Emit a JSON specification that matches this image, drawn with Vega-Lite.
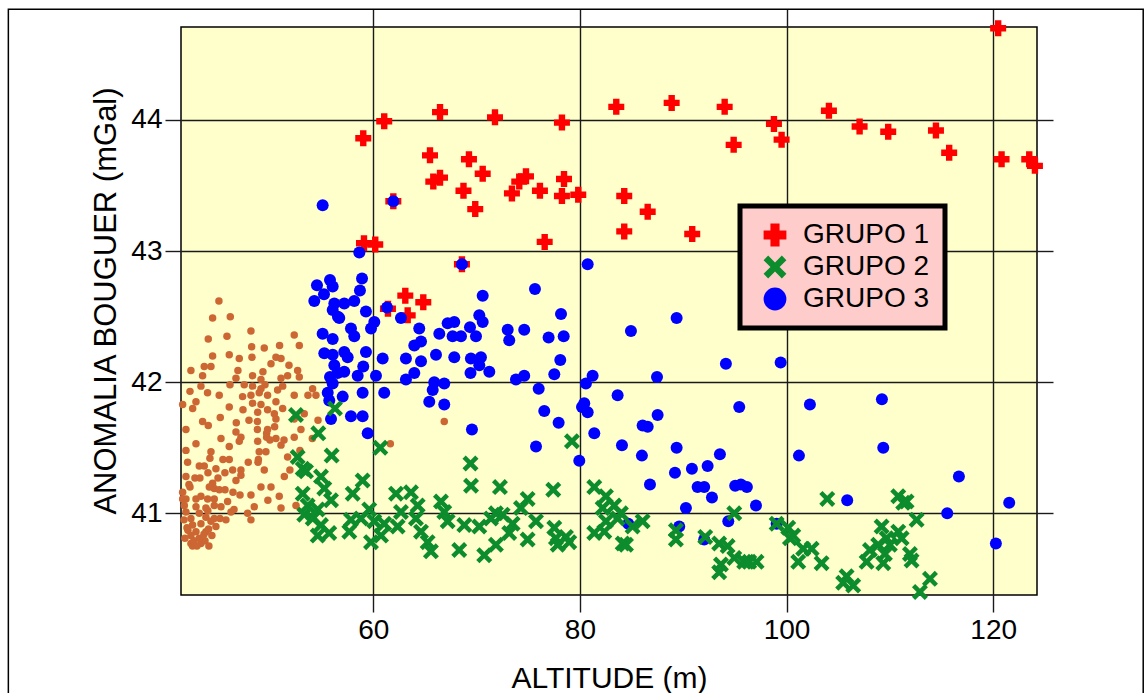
{
"$schema": "https://vega.github.io/schema/vega-lite/v6.json",
"width": 856,
"height": 568,
"autosize": {"type": "none"},
"padding": {"left": 181, "top": 27, "right": 107, "bottom": 98},
"background": "#FFFFFF",
"config": {
  "font": "Liberation Sans",
  "view": {"fill": "#FFFFCC", "stroke": "#000000", "strokeWidth": 1.5},
  "axis": {"domain": false, "tickColor": "#1A1A1A", "tickWidth": 1.4, "gridColor": "#1A1A1A", "gridWidth": 1.4, "gridOpacity": 1, "labelColor": "#000000", "labelFont": "Liberation Sans", "labelFontSize": 28, "titleFont": "Liberation Sans", "titleFontSize": 30, "titleFontWeight": "normal", "titleColor": "#000000", "labelOverlap": false, "labelFlush": false},
  "legend": {"padding": 15, "fillColor": "#FFCCCC", "strokeColor": "#000000", "strokeWidth": 5, "labelFont": "Liberation Sans", "labelFontSize": 28, "labelColor": "#000000", "labelLimit": 0, "labelOffset": 14, "symbolOffset": 6, "symbolSize": 520, "symbolStrokeWidth": 0, "rowPadding": 4, "cornerRadius": 0}
},
"resolve": {"axis": {"x": "independent", "y": "independent"}},
"datasets": {
"marco": [{"x1": 24.68, "x2": 134.52, "y1": 44.844, "y2": 39.5}],
"otros": [
{"alt":45.06,"anom":42.62},{"alt":44.45,"anom":42.49},{"alt":46.16,"anom":42.50},{"alt":44.03,"anom":42.33},{"alt":45.84,"anom":42.35},{"alt":48.16,"anom":42.39},{"alt":52.35,"anom":42.36},{"alt":48.23,"anom":42.27},{"alt":49.45,"anom":42.26},{"alt":44.45,"anom":42.20},
{"alt":46.06,"anom":42.21},{"alt":47.03,"anom":42.18},{"alt":48.26,"anom":42.19},{"alt":50.10,"anom":42.14},{"alt":50.58,"anom":42.19},{"alt":51.07,"anom":42.18},{"alt":42.35,"anom":42.09},{"alt":43.64,"anom":42.12},{"alt":44.29,"anom":42.12},{"alt":43.48,"anom":42.05},
{"alt":46.71,"anom":42.03},{"alt":48.32,"anom":42.05},{"alt":47.51,"anom":41.98},{"alt":48.32,"anom":41.97},{"alt":49.13,"anom":41.95},{"alt":51.07,"anom":42.03},{"alt":51.71,"anom":42.05},{"alt":52.68,"anom":42.09},{"alt":52.84,"anom":42.04},{"alt":49.13,"anom":42.02},
{"alt":43.32,"anom":41.97},{"alt":43.96,"anom":41.92},{"alt":45.09,"anom":41.90},{"alt":47.35,"anom":41.89},{"alt":48.16,"anom":41.90},{"alt":48.96,"anom":41.92},{"alt":49.77,"anom":41.90},{"alt":50.74,"anom":41.94},{"alt":51.23,"anom":41.97},{"alt":52.35,"anom":41.90},
{"alt":54.13,"anom":41.95},{"alt":54.45,"anom":41.90},{"alt":41.55,"anom":41.83},{"alt":42.84,"anom":41.85},{"alt":42.52,"anom":41.80},{"alt":46.06,"anom":41.81},{"alt":48.32,"anom":41.84},{"alt":48.81,"anom":41.77},{"alt":49.13,"anom":41.83},{"alt":50.58,"anom":41.85},
{"alt":50.42,"anom":41.76},{"alt":51.23,"anom":41.80},{"alt":53.32,"anom":41.76},{"alt":52.35,"anom":41.72},{"alt":43.48,"anom":41.70},{"alt":47.97,"anom":41.71},{"alt":48.78,"anom":41.70},{"alt":50.58,"anom":41.72},{"alt":49.77,"anom":41.64},{"alt":46.71,"anom":41.62},
{"alt":47.19,"anom":41.58},{"alt":48.78,"anom":41.64},{"alt":51.36,"anom":41.56},{"alt":50.58,"anom":41.57},{"alt":51.07,"anom":41.52},{"alt":52.35,"anom":41.58},{"alt":53.00,"anom":41.64},{"alt":45.26,"anom":41.57},{"alt":47.03,"anom":41.55},{"alt":48.81,"anom":41.55},
{"alt":41.87,"anom":41.48},{"alt":44.29,"anom":41.47},{"alt":48.96,"anom":41.47},{"alt":49.61,"anom":41.47},{"alt":51.71,"anom":41.43},{"alt":42.03,"anom":41.39},{"alt":43.16,"anom":41.36},{"alt":43.64,"anom":41.36},{"alt":44.77,"anom":41.34},{"alt":46.06,"anom":41.41},
{"alt":46.39,"anom":41.33},{"alt":47.19,"anom":41.33},{"alt":49.45,"anom":41.33},{"alt":51.39,"anom":41.28},{"alt":41.87,"anom":41.28},{"alt":44.45,"anom":41.23},{"alt":44.61,"anom":41.19},{"alt":44.13,"anom":41.20},{"alt":45.10,"anom":41.18},{"alt":46.71,"anom":41.25},
{"alt":47.19,"anom":41.29},{"alt":49.13,"anom":41.20},{"alt":50.10,"anom":41.20},{"alt":50.90,"anom":41.13},{"alt":48.16,"anom":41.14},{"alt":43.32,"anom":41.13},{"alt":43.97,"anom":41.11},{"alt":44.61,"anom":41.11},{"alt":45.90,"anom":41.09},{"alt":41.87,"anom":41.11},
{"alt":41.71,"anom":41.06},{"alt":42.84,"anom":41.05},{"alt":43.80,"anom":41.04},{"alt":44.61,"anom":41.06},{"alt":45.26,"anom":41.05},{"alt":46.23,"anom":41.01},{"alt":48.48,"anom":41.05},{"alt":51.07,"anom":41.04},{"alt":52.52,"anom":41.06},{"alt":42.35,"anom":40.96},
{"alt":43.16,"anom":41.00},{"alt":43.80,"anom":40.97},{"alt":44.61,"anom":40.96},{"alt":47.84,"anom":41.00},{"alt":48.16,"anom":40.95},{"alt":42.51,"anom":40.91},{"alt":43.32,"anom":40.92},{"alt":44.29,"anom":40.94},{"alt":42.84,"anom":40.86},{"alt":43.80,"anom":40.86},
{"alt":42.35,"anom":40.83},{"alt":43.16,"anom":40.81},{"alt":42.35,"anom":40.77},{"alt":43.32,"anom":40.77},{"alt":42.51,"anom":40.75},{"alt":41.87,"anom":41.01},{"alt":41.55,"anom":41.11},{"alt":41.55,"anom":41.16},{"alt":61.65,"anom":41.53},{"alt":66.87,"anom":41.70},
{"alt":54.10,"anom":41.57},{"alt":49.68,"anom":41.61},{"alt":48.88,"anom":41.41},{"alt":47.90,"anom":41.39},{"alt":46.52,"anom":41.03},{"alt":43.61,"anom":40.84},{"alt":49.52,"anom":41.98},{"alt":50.45,"anom":41.66},{"alt":49.68,"anom":41.58},{"alt":42.26,"anom":41.20},
{"alt":42.74,"anom":41.27},{"alt":44.00,"anom":41.31},{"alt":44.97,"anom":41.27},{"alt":45.65,"anom":41.18},{"alt":44.06,"anom":40.88},{"alt":41.97,"anom":40.89},
{"alt":41.68,"anom":40.95},{"alt":42.06,"anom":40.87},{"alt":41.77,"anom":40.81},{"alt":42.64,"anom":40.79},{"alt":42.93,"anom":40.75},{"alt":43.71,"anom":40.79},{"alt":44.09,"anom":40.75},{"alt":44.38,"anom":40.83},{"alt":44.77,"anom":40.90},{"alt":45.16,"anom":40.96},
{"alt":43.99,"anom":41.02},{"alt":42.84,"anom":41.11},{"alt":42.16,"anom":41.22},{"alt":43.22,"anom":41.27},{"alt":45.64,"anom":41.31},{"alt":45.45,"anom":41.41},{"alt":44.19,"anom":41.42},{"alt":42.84,"anom":41.53},{"alt":46.06,"anom":41.51},{"alt":46.74,"anom":41.69},
{"alt":45.19,"anom":41.73},{"alt":44.03,"anom":41.67},{"alt":41.87,"anom":41.64},{"alt":42.26,"anom":41.93},{"alt":46.13,"anom":41.98},{"alt":46.90,"anom":42.09},{"alt":49.32,"anom":42.08},{"alt":51.84,"anom":42.13},{"alt":53.68,"anom":41.90},{"alt":54.65,"anom":41.71},
{"alt":52.90,"anom":41.48},{"alt":51.93,"anom":41.33},{"alt":49.80,"anom":41.10},{"alt":47.10,"anom":41.14},{"alt":45.74,"anom":40.95},{"alt":46.42,"anom":41.16},{"alt":48.84,"anom":41.39},{"alt":50.00,"anom":41.56},{"alt":49.77,"anom":41.79},{"alt":47.39,"anom":41.79},
{"alt":52.84,"anom":42.28},{"alt":50.93,"anom":42.28}
],
"grupo1": [
{"alt":59.03,"anom":43.86,"grupo":"GRUPO 1"},{"alt":61.06,"anom":43.99,"grupo":"GRUPO 1"},{"alt":66.46,"anom":44.06,"grupo":"GRUPO 1"},{"alt":65.49,"anom":43.73,"grupo":"GRUPO 1"},{"alt":65.81,"anom":43.53,"grupo":"GRUPO 1"},{"alt":66.46,"anom":43.56,"grupo":"GRUPO 1"},{"alt":69.26,"anom":43.70,"grupo":"GRUPO 1"},{"alt":68.73,"anom":43.46,"grupo":"GRUPO 1"},
{"alt":61.94,"anom":43.38,"grupo":"GRUPO 1"},{"alt":59.10,"anom":43.06,"grupo":"GRUPO 1"},{"alt":60.19,"anom":43.05,"grupo":"GRUPO 1"},{"alt":68.58,"anom":42.90,"grupo":"GRUPO 1"},{"alt":63.10,"anom":42.66,"grupo":"GRUPO 1"},{"alt":64.84,"anom":42.61,"grupo":"GRUPO 1"},{"alt":61.42,"anom":42.56,"grupo":"GRUPO 1"},{"alt":63.33,"anom":42.51,"grupo":"GRUPO 1"},
{"alt":71.78,"anom":44.02,"grupo":"GRUPO 1"},{"alt":78.26,"anom":43.98,"grupo":"GRUPO 1"},{"alt":83.52,"anom":44.10,"grupo":"GRUPO 1"},{"alt":88.88,"anom":44.13,"grupo":"GRUPO 1"},{"alt":94.01,"anom":44.10,"grupo":"GRUPO 1"},{"alt":94.88,"anom":43.81,"grupo":"GRUPO 1"},{"alt":70.59,"anom":43.59,"grupo":"GRUPO 1"},{"alt":69.87,"anom":43.32,"grupo":"GRUPO 1"},
{"alt":74.78,"anom":43.57,"grupo":"GRUPO 1"},{"alt":74.13,"anom":43.53,"grupo":"GRUPO 1"},{"alt":73.42,"anom":43.44,"grupo":"GRUPO 1"},{"alt":76.13,"anom":43.46,"grupo":"GRUPO 1"},{"alt":78.46,"anom":43.55,"grupo":"GRUPO 1"},{"alt":78.26,"anom":43.42,"grupo":"GRUPO 1"},{"alt":79.84,"anom":43.43,"grupo":"GRUPO 1"},{"alt":84.29,"anom":43.42,"grupo":"GRUPO 1"},
{"alt":86.56,"anom":43.30,"grupo":"GRUPO 1"},{"alt":84.29,"anom":43.15,"grupo":"GRUPO 1"},{"alt":90.87,"anom":43.13,"grupo":"GRUPO 1"},{"alt":76.59,"anom":43.07,"grupo":"GRUPO 1"},{"alt":120.48,"anom":44.70,"grupo":"GRUPO 1"},{"alt":98.78,"anom":43.97,"grupo":"GRUPO 1"},{"alt":99.52,"anom":43.85,"grupo":"GRUPO 1"},{"alt":104.10,"anom":44.07,"grupo":"GRUPO 1"},
{"alt":107.07,"anom":43.95,"grupo":"GRUPO 1"},{"alt":109.84,"anom":43.91,"grupo":"GRUPO 1"},{"alt":114.46,"anom":43.92,"grupo":"GRUPO 1"},{"alt":115.74,"anom":43.75,"grupo":"GRUPO 1"},{"alt":120.81,"anom":43.70,"grupo":"GRUPO 1"},{"alt":123.49,"anom":43.70,"grupo":"GRUPO 1"},{"alt":124.04,"anom":43.65,"grupo":"GRUPO 1"}
],
"grupo3": [
{"alt":55.10,"anom":43.35,"grupo":"GRUPO 3"},{"alt":61.94,"anom":43.38,"grupo":"GRUPO 3"},{"alt":58.65,"anom":42.99,"grupo":"GRUPO 3"},{"alt":68.58,"anom":42.90,"grupo":"GRUPO 3"},{"alt":80.75,"anom":42.90,"grupo":"GRUPO 3"},{"alt":75.65,"anom":42.71,"grupo":"GRUPO 3"},{"alt":70.59,"anom":42.66,"grupo":"GRUPO 3"},{"alt":54.55,"anom":42.74,"grupo":"GRUPO 3"},
{"alt":55.81,"anom":42.78,"grupo":"GRUPO 3"},{"alt":56.07,"anom":42.73,"grupo":"GRUPO 3"},{"alt":58.91,"anom":42.79,"grupo":"GRUPO 3"},{"alt":58.71,"anom":42.70,"grupo":"GRUPO 3"},{"alt":54.29,"anom":42.62,"grupo":"GRUPO 3"},{"alt":55.23,"anom":42.67,"grupo":"GRUPO 3"},{"alt":56.23,"anom":42.60,"grupo":"GRUPO 3"},{"alt":57.19,"anom":42.60,"grupo":"GRUPO 3"},
{"alt":58.16,"anom":42.62,"grupo":"GRUPO 3"},{"alt":59.29,"anom":42.54,"grupo":"GRUPO 3"},{"alt":56.58,"anom":42.50,"grupo":"GRUPO 3"},{"alt":56.07,"anom":42.55,"grupo":"GRUPO 3"},{"alt":61.33,"anom":42.57,"grupo":"GRUPO 3"},{"alt":62.68,"anom":42.49,"grupo":"GRUPO 3"},{"alt":70.26,"anom":42.51,"grupo":"GRUPO 3"},{"alt":78.17,"anom":42.52,"grupo":"GRUPO 3"},
{"alt":56.71,"anom":42.49,"grupo":"GRUPO 3"},{"alt":60.10,"anom":42.46,"grupo":"GRUPO 3"},{"alt":59.78,"anom":42.41,"grupo":"GRUPO 3"},{"alt":57.84,"anom":42.41,"grupo":"GRUPO 3"},{"alt":58.16,"anom":42.35,"grupo":"GRUPO 3"},{"alt":55.10,"anom":42.37,"grupo":"GRUPO 3"},{"alt":56.07,"anom":42.33,"grupo":"GRUPO 3"},{"alt":55.26,"anom":42.22,"grupo":"GRUPO 3"},
{"alt":56.07,"anom":42.21,"grupo":"GRUPO 3"},{"alt":57.19,"anom":42.23,"grupo":"GRUPO 3"},{"alt":57.52,"anom":42.19,"grupo":"GRUPO 3"},{"alt":56.23,"anom":42.13,"grupo":"GRUPO 3"},{"alt":56.55,"anom":42.07,"grupo":"GRUPO 3"},{"alt":57.19,"anom":42.08,"grupo":"GRUPO 3"},{"alt":56.07,"anom":41.99,"grupo":"GRUPO 3"},{"alt":55.59,"anom":41.92,"grupo":"GRUPO 3"},
{"alt":55.74,"anom":41.86,"grupo":"GRUPO 3"},{"alt":57.04,"anom":41.89,"grupo":"GRUPO 3"},{"alt":58.49,"anom":42.05,"grupo":"GRUPO 3"},{"alt":58.97,"anom":41.92,"grupo":"GRUPO 3"},{"alt":57.84,"anom":41.74,"grupo":"GRUPO 3"},{"alt":58.97,"anom":41.74,"grupo":"GRUPO 3"},{"alt":55.91,"anom":41.72,"grupo":"GRUPO 3"},{"alt":59.46,"anom":41.61,"grupo":"GRUPO 3"},
{"alt":59.29,"anom":42.23,"grupo":"GRUPO 3"},{"alt":60.26,"anom":42.05,"grupo":"GRUPO 3"},{"alt":60.91,"anom":42.18,"grupo":"GRUPO 3"},{"alt":61.06,"anom":41.92,"grupo":"GRUPO 3"},{"alt":63.16,"anom":42.18,"grupo":"GRUPO 3"},{"alt":63.16,"anom":42.02,"grupo":"GRUPO 3"},{"alt":63.97,"anom":42.07,"grupo":"GRUPO 3"},{"alt":64.62,"anom":42.16,"grupo":"GRUPO 3"},
{"alt":63.97,"anom":42.28,"grupo":"GRUPO 3"},{"alt":64.62,"anom":42.31,"grupo":"GRUPO 3"},{"alt":64.45,"anom":42.41,"grupo":"GRUPO 3"},{"alt":66.07,"anom":42.21,"grupo":"GRUPO 3"},{"alt":66.39,"anom":42.37,"grupo":"GRUPO 3"},{"alt":67.20,"anom":42.45,"grupo":"GRUPO 3"},{"alt":67.84,"anom":42.46,"grupo":"GRUPO 3"},{"alt":67.68,"anom":42.35,"grupo":"GRUPO 3"},
{"alt":68.49,"anom":42.35,"grupo":"GRUPO 3"},{"alt":67.84,"anom":42.19,"grupo":"GRUPO 3"},{"alt":65.90,"anom":42.00,"grupo":"GRUPO 3"},{"alt":66.87,"anom":41.99,"grupo":"GRUPO 3"},{"alt":65.75,"anom":41.94,"grupo":"GRUPO 3"},{"alt":65.42,"anom":41.85,"grupo":"GRUPO 3"},{"alt":66.87,"anom":41.83,"grupo":"GRUPO 3"},{"alt":69.36,"anom":42.42,"grupo":"GRUPO 3"},
{"alt":69.45,"anom":42.18,"grupo":"GRUPO 3"},{"alt":69.41,"anom":42.07,"grupo":"GRUPO 3"},{"alt":69.55,"anom":41.64,"grupo":"GRUPO 3"},{"alt":70.59,"anom":42.46,"grupo":"GRUPO 3"},{"alt":69.94,"anom":42.35,"grupo":"GRUPO 3"},{"alt":73.01,"anom":42.40,"grupo":"GRUPO 3"},{"alt":73.16,"anom":42.32,"grupo":"GRUPO 3"},{"alt":74.61,"anom":42.40,"grupo":"GRUPO 3"},
{"alt":76.97,"anom":42.34,"grupo":"GRUPO 3"},{"alt":78.43,"anom":42.35,"grupo":"GRUPO 3"},{"alt":70.42,"anom":42.19,"grupo":"GRUPO 3"},{"alt":70.26,"anom":42.13,"grupo":"GRUPO 3"},{"alt":71.23,"anom":42.08,"grupo":"GRUPO 3"},{"alt":73.81,"anom":42.02,"grupo":"GRUPO 3"},{"alt":74.61,"anom":42.05,"grupo":"GRUPO 3"},{"alt":77.52,"anom":42.06,"grupo":"GRUPO 3"},
{"alt":78.10,"anom":42.17,"grupo":"GRUPO 3"},{"alt":76.01,"anom":41.95,"grupo":"GRUPO 3"},{"alt":76.55,"anom":41.78,"grupo":"GRUPO 3"},{"alt":77.94,"anom":41.69,"grupo":"GRUPO 3"},{"alt":75.75,"anom":41.51,"grupo":"GRUPO 3"},{"alt":79.94,"anom":41.40,"grupo":"GRUPO 3"},{"alt":80.20,"anom":41.81,"grupo":"GRUPO 3"},{"alt":80.75,"anom":41.77,"grupo":"GRUPO 3"},
{"alt":80.42,"anom":41.84,"grupo":"GRUPO 3"},{"alt":80.58,"anom":41.99,"grupo":"GRUPO 3"},{"alt":81.23,"anom":42.05,"grupo":"GRUPO 3"},{"alt":81.39,"anom":41.61,"grupo":"GRUPO 3"},{"alt":83.65,"anom":41.90,"grupo":"GRUPO 3"},{"alt":84.94,"anom":42.39,"grupo":"GRUPO 3"},{"alt":89.36,"anom":42.49,"grupo":"GRUPO 3"},{"alt":87.46,"anom":42.04,"grupo":"GRUPO 3"},
{"alt":87.52,"anom":41.75,"grupo":"GRUPO 3"},{"alt":86.07,"anom":41.67,"grupo":"GRUPO 3"},{"alt":86.56,"anom":41.66,"grupo":"GRUPO 3"},{"alt":84.07,"anom":41.52,"grupo":"GRUPO 3"},{"alt":86.00,"anom":41.44,"grupo":"GRUPO 3"},{"alt":89.36,"anom":41.50,"grupo":"GRUPO 3"},{"alt":89.20,"anom":41.31,"grupo":"GRUPO 3"},{"alt":86.78,"anom":41.22,"grupo":"GRUPO 3"},
{"alt":90.84,"anom":41.34,"grupo":"GRUPO 3"},{"alt":92.36,"anom":41.36,"grupo":"GRUPO 3"},{"alt":93.55,"anom":41.45,"grupo":"GRUPO 3"},{"alt":94.13,"anom":42.14,"grupo":"GRUPO 3"},{"alt":95.42,"anom":41.81,"grupo":"GRUPO 3"},{"alt":91.39,"anom":41.20,"grupo":"GRUPO 3"},{"alt":92.03,"anom":41.20,"grupo":"GRUPO 3"},{"alt":92.78,"anom":41.12,"grupo":"GRUPO 3"},
{"alt":90.26,"anom":41.04,"grupo":"GRUPO 3"},{"alt":95.03,"anom":41.21,"grupo":"GRUPO 3"},{"alt":95.58,"anom":41.22,"grupo":"GRUPO 3"},{"alt":96.16,"anom":41.20,"grupo":"GRUPO 3"},{"alt":97.04,"anom":41.06,"grupo":"GRUPO 3"},{"alt":94.36,"anom":40.94,"grupo":"GRUPO 3"},{"alt":84.68,"anom":40.92,"grupo":"GRUPO 3"},{"alt":89.61,"anom":40.90,"grupo":"GRUPO 3"},
{"alt":92.03,"anom":40.80,"grupo":"GRUPO 3"},{"alt":99.43,"anom":42.15,"grupo":"GRUPO 3"},{"alt":102.26,"anom":41.83,"grupo":"GRUPO 3"},{"alt":109.23,"anom":41.87,"grupo":"GRUPO 3"},{"alt":109.36,"anom":41.50,"grupo":"GRUPO 3"},{"alt":101.20,"anom":41.44,"grupo":"GRUPO 3"},{"alt":116.68,"anom":41.28,"grupo":"GRUPO 3"},{"alt":105.87,"anom":41.10,"grupo":"GRUPO 3"},
{"alt":115.55,"anom":41.00,"grupo":"GRUPO 3"},{"alt":121.55,"anom":41.08,"grupo":"GRUPO 3"},{"alt":120.26,"anom":40.77,"grupo":"GRUPO 3"},{"alt":99.04,"anom":40.92,"grupo":"GRUPO 3"},{"alt":55.81,"anom":42.04,"grupo":"GRUPO 3"},{"alt":59.03,"anom":42.12,"grupo":"GRUPO 3"}
],
"grupo2": [
{"alt":52.52,"anom":41.75,"grupo":"GRUPO 2"},{"alt":56.29,"anom":41.80,"grupo":"GRUPO 2"},{"alt":54.68,"anom":41.61,"grupo":"GRUPO 2"},{"alt":60.68,"anom":41.50,"grupo":"GRUPO 2"},{"alt":52.68,"anom":41.43,"grupo":"GRUPO 2"},{"alt":55.97,"anom":41.44,"grupo":"GRUPO 2"},{"alt":53.17,"anom":41.34,"grupo":"GRUPO 2"},{"alt":53.49,"anom":41.32,"grupo":"GRUPO 2"},
{"alt":54.94,"anom":41.28,"grupo":"GRUPO 2"},{"alt":58.97,"anom":41.25,"grupo":"GRUPO 2"},{"alt":58.01,"anom":41.15,"grupo":"GRUPO 2"},{"alt":55.26,"anom":41.19,"grupo":"GRUPO 2"},{"alt":55.91,"anom":41.10,"grupo":"GRUPO 2"},{"alt":53.17,"anom":41.15,"grupo":"GRUPO 2"},{"alt":53.65,"anom":41.06,"grupo":"GRUPO 2"},{"alt":53.32,"anom":40.99,"grupo":"GRUPO 2"},
{"alt":54.14,"anom":40.96,"grupo":"GRUPO 2"},{"alt":54.62,"anom":41.03,"grupo":"GRUPO 2"},{"alt":54.94,"anom":40.91,"grupo":"GRUPO 2"},{"alt":55.74,"anom":40.85,"grupo":"GRUPO 2"},{"alt":54.62,"anom":40.83,"grupo":"GRUPO 2"},{"alt":57.68,"anom":40.86,"grupo":"GRUPO 2"},{"alt":57.84,"anom":40.95,"grupo":"GRUPO 2"},{"alt":58.81,"anom":40.96,"grupo":"GRUPO 2"},
{"alt":59.61,"anom":41.03,"grupo":"GRUPO 2"},{"alt":60.10,"anom":40.94,"grupo":"GRUPO 2"},{"alt":59.78,"anom":40.78,"grupo":"GRUPO 2"},{"alt":61.06,"anom":40.92,"grupo":"GRUPO 2"},{"alt":60.75,"anom":40.83,"grupo":"GRUPO 2"},{"alt":62.20,"anom":41.15,"grupo":"GRUPO 2"},{"alt":63.65,"anom":41.16,"grupo":"GRUPO 2"},{"alt":64.30,"anom":41.06,"grupo":"GRUPO 2"},
{"alt":62.68,"anom":41.01,"grupo":"GRUPO 2"},{"alt":62.36,"anom":40.90,"grupo":"GRUPO 2"},{"alt":64.13,"anom":40.96,"grupo":"GRUPO 2"},{"alt":64.62,"anom":40.86,"grupo":"GRUPO 2"},{"alt":66.55,"anom":41.09,"grupo":"GRUPO 2"},{"alt":66.87,"anom":41.01,"grupo":"GRUPO 2"},{"alt":67.20,"anom":40.94,"grupo":"GRUPO 2"},{"alt":65.26,"anom":40.78,"grupo":"GRUPO 2"},
{"alt":65.58,"anom":40.71,"grupo":"GRUPO 2"},{"alt":68.32,"anom":40.72,"grupo":"GRUPO 2"},{"alt":68.81,"anom":40.91,"grupo":"GRUPO 2"},{"alt":69.41,"anom":41.38,"grupo":"GRUPO 2"},{"alt":69.46,"anom":41.21,"grupo":"GRUPO 2"},{"alt":72.26,"anom":41.20,"grupo":"GRUPO 2"},{"alt":77.42,"anom":41.18,"grupo":"GRUPO 2"},{"alt":79.23,"anom":41.55,"grupo":"GRUPO 2"},
{"alt":74.94,"anom":41.11,"grupo":"GRUPO 2"},{"alt":74.29,"anom":41.04,"grupo":"GRUPO 2"},{"alt":71.87,"anom":41.00,"grupo":"GRUPO 2"},{"alt":71.39,"anom":40.96,"grupo":"GRUPO 2"},{"alt":72.52,"anom":40.99,"grupo":"GRUPO 2"},{"alt":73.49,"anom":40.92,"grupo":"GRUPO 2"},{"alt":75.75,"anom":40.94,"grupo":"GRUPO 2"},{"alt":73.16,"anom":40.85,"grupo":"GRUPO 2"},
{"alt":74.94,"anom":40.80,"grupo":"GRUPO 2"},{"alt":71.87,"anom":40.76,"grupo":"GRUPO 2"},{"alt":70.74,"anom":40.68,"grupo":"GRUPO 2"},{"alt":70.26,"anom":40.90,"grupo":"GRUPO 2"},{"alt":77.52,"anom":40.89,"grupo":"GRUPO 2"},{"alt":77.68,"anom":40.81,"grupo":"GRUPO 2"},{"alt":78.65,"anom":40.82,"grupo":"GRUPO 2"},{"alt":78.97,"anom":40.78,"grupo":"GRUPO 2"},
{"alt":77.85,"anom":40.76,"grupo":"GRUPO 2"},{"alt":81.39,"anom":41.20,"grupo":"GRUPO 2"},{"alt":82.52,"anom":41.13,"grupo":"GRUPO 2"},{"alt":82.20,"anom":41.04,"grupo":"GRUPO 2"},{"alt":83.32,"anom":41.06,"grupo":"GRUPO 2"},{"alt":83.97,"anom":41.00,"grupo":"GRUPO 2"},{"alt":83.65,"anom":40.96,"grupo":"GRUPO 2"},{"alt":82.52,"anom":40.94,"grupo":"GRUPO 2"},
{"alt":81.39,"anom":40.85,"grupo":"GRUPO 2"},{"alt":82.36,"anom":40.86,"grupo":"GRUPO 2"},{"alt":85.10,"anom":40.90,"grupo":"GRUPO 2"},{"alt":86.07,"anom":40.94,"grupo":"GRUPO 2"},{"alt":84.14,"anom":40.77,"grupo":"GRUPO 2"},{"alt":84.46,"anom":40.76,"grupo":"GRUPO 2"},{"alt":89.29,"anom":40.87,"grupo":"GRUPO 2"},{"alt":89.29,"anom":40.80,"grupo":"GRUPO 2"},
{"alt":92.13,"anom":40.82,"grupo":"GRUPO 2"},{"alt":93.48,"anom":40.77,"grupo":"GRUPO 2"},{"alt":94.30,"anom":40.75,"grupo":"GRUPO 2"},{"alt":94.94,"anom":41.00,"grupo":"GRUPO 2"},{"alt":94.94,"anom":40.66,"grupo":"GRUPO 2"},{"alt":93.65,"anom":40.61,"grupo":"GRUPO 2"},{"alt":93.48,"anom":40.55,"grupo":"GRUPO 2"},{"alt":95.90,"anom":40.63,"grupo":"GRUPO 2"},
{"alt":96.39,"anom":40.63,"grupo":"GRUPO 2"},{"alt":103.94,"anom":41.11,"grupo":"GRUPO 2"},{"alt":99.04,"anom":40.92,"grupo":"GRUPO 2"},{"alt":100.16,"anom":40.89,"grupo":"GRUPO 2"},{"alt":100.65,"anom":40.83,"grupo":"GRUPO 2"},{"alt":100.33,"anom":40.81,"grupo":"GRUPO 2"},{"alt":101.61,"anom":40.73,"grupo":"GRUPO 2"},{"alt":102.43,"anom":40.73,"grupo":"GRUPO 2"},
{"alt":101.13,"anom":40.63,"grupo":"GRUPO 2"},{"alt":103.39,"anom":40.62,"grupo":"GRUPO 2"},{"alt":97.10,"anom":40.63,"grupo":"GRUPO 2"},{"alt":110.81,"anom":41.13,"grupo":"GRUPO 2"},{"alt":111.29,"anom":41.08,"grupo":"GRUPO 2"},{"alt":111.62,"anom":41.09,"grupo":"GRUPO 2"},{"alt":112.59,"anom":40.95,"grupo":"GRUPO 2"},{"alt":109.20,"anom":40.90,"grupo":"GRUPO 2"},
{"alt":109.68,"anom":40.81,"grupo":"GRUPO 2"},{"alt":110.00,"anom":40.76,"grupo":"GRUPO 2"},{"alt":108.87,"anom":40.76,"grupo":"GRUPO 2"},{"alt":108.07,"anom":40.72,"grupo":"GRUPO 2"},{"alt":110.81,"anom":40.86,"grupo":"GRUPO 2"},{"alt":111.14,"anom":40.81,"grupo":"GRUPO 2"},{"alt":109.52,"anom":40.69,"grupo":"GRUPO 2"},{"alt":109.36,"anom":40.62,"grupo":"GRUPO 2"},
{"alt":111.94,"anom":40.69,"grupo":"GRUPO 2"},{"alt":112.10,"anom":40.64,"grupo":"GRUPO 2"},{"alt":107.75,"anom":40.63,"grupo":"GRUPO 2"},{"alt":105.81,"anom":40.52,"grupo":"GRUPO 2"},{"alt":106.45,"anom":40.45,"grupo":"GRUPO 2"},{"alt":105.48,"anom":40.47,"grupo":"GRUPO 2"},{"alt":113.88,"anom":40.50,"grupo":"GRUPO 2"},{"alt":112.91,"anom":40.40,"grupo":"GRUPO 2"}
]
},
"layer": [
{
  "data": {"name": "marco"},
  "mark": {"type": "rect", "fill": "#FFFFFF", "fillOpacity": 0, "stroke": "#000000", "strokeWidth": 1.5, "clip": false},
  "encoding": {
    "x": {"field": "x1", "type": "quantitative", "scale": {"domain": [41.39, 124.24], "zero": false, "nice": false}, "axis": null},
    "x2": {"field": "x2"},
    "y": {"field": "y1", "type": "quantitative", "scale": {"domain": [40.377, 44.709], "zero": false, "nice": false}, "axis": null},
    "y2": {"field": "y2"}
  }
},
{
  "data": {"name": "otros"},
  "mark": {"type": "point", "filled": true, "opacity": 1, "size": 56, "strokeWidth": 0, "color": "#CC6633"},
  "encoding": {
    "x": {"field": "alt", "type": "quantitative", "scale": {"domain": [41.39, 124.24], "zero": false, "nice": false},
          "axis": {"orient": "bottom", "values": [60, 80, 100, 120], "title": "ALTITUDE (m)", "grid": true, "tickSize": 17, "labelPadding": 4, "titleBaseline": "alphabetic", "titleY": 92, "titleX": 428, "titleAlign": "center"}},
    "y": {"field": "anom", "type": "quantitative", "scale": {"domain": [40.377, 44.709], "zero": false, "nice": false},
          "axis": {"orient": "left", "values": [41, 42, 43, 44], "title": "ANOMALIA BOUGUER (mGal)", "titleFontSize": 31, "grid": true, "tickSize": 16, "labelPadding": 3, "titleBaseline": "alphabetic", "titleAngle": -90, "titleX": -65.5, "titleY": 273.5, "titleAlign": "center"}}
  }
},
{
  "data": {"name": "grupo1"},
  "mark": {"type": "point", "filled": true, "opacity": 1, "size": 256, "strokeWidth": 0},
  "encoding": {
    "x": {"field": "alt", "type": "quantitative", "scale": {"domain": [41.39, 124.24], "zero": false, "nice": false},
          "axis": {"orient": "top", "values": [60, 80, 100, 120], "labels": false, "title": null, "grid": false, "tickSize": 18}},
    "y": {"field": "anom", "type": "quantitative", "scale": {"domain": [40.377, 44.709], "zero": false, "nice": false},
          "axis": {"orient": "right", "values": [41, 42, 43, 44], "labels": false, "title": null, "grid": false, "tickSize": 16}},
    "color": {"field": "grupo", "type": "nominal", "scale": {"domain": ["GRUPO 1", "GRUPO 2", "GRUPO 3"], "range": ["#FF0000", "#0C8C2C", "#0000FF"]},
              "legend": {"title": null, "orient": "none", "legendX": 559, "legendY": 179, "direction": "vertical"}},
    "shape": {"field": "grupo", "type": "nominal", "scale": {"domain": ["GRUPO 1", "GRUPO 2", "GRUPO 3"], "range": ["cross", "M-0.6,-1L0,-0.4L0.6,-1L1,-0.6L0.4,0L1,0.6L0.6,1L0,0.4L-0.6,1L-1,0.6L-0.4,0L-1,-0.6Z", "circle"]},
              "legend": {"title": null, "orient": "none", "legendX": 559, "legendY": 179, "direction": "vertical"}}
  }
},
{
  "data": {"name": "grupo3"},
  "mark": {"type": "point", "filled": true, "opacity": 1, "size": 144, "strokeWidth": 0},
  "encoding": {
    "x": {"field": "alt", "type": "quantitative", "scale": {"domain": [41.39, 124.24], "zero": false, "nice": false}, "axis": null},
    "y": {"field": "anom", "type": "quantitative", "scale": {"domain": [40.377, 44.709], "zero": false, "nice": false}, "axis": null},
    "color": {"field": "grupo", "type": "nominal", "scale": {"domain": ["GRUPO 1", "GRUPO 2", "GRUPO 3"], "range": ["#FF0000", "#0C8C2C", "#0000FF"]},
              "legend": {"title": null, "orient": "none", "legendX": 559, "legendY": 179, "direction": "vertical"}},
    "shape": {"field": "grupo", "type": "nominal", "scale": {"domain": ["GRUPO 1", "GRUPO 2", "GRUPO 3"], "range": ["cross", "M-0.6,-1L0,-0.4L0.6,-1L1,-0.6L0.4,0L1,0.6L0.6,1L0,0.4L-0.6,1L-1,0.6L-0.4,0L-1,-0.6Z", "circle"]},
              "legend": {"title": null, "orient": "none", "legendX": 559, "legendY": 179, "direction": "vertical"}}
  }
},
{
  "data": {"name": "grupo2"},
  "mark": {"type": "point", "filled": true, "opacity": 1, "size": 256, "strokeWidth": 0},
  "encoding": {
    "x": {"field": "alt", "type": "quantitative", "scale": {"domain": [41.39, 124.24], "zero": false, "nice": false}, "axis": null},
    "y": {"field": "anom", "type": "quantitative", "scale": {"domain": [40.377, 44.709], "zero": false, "nice": false}, "axis": null},
    "color": {"field": "grupo", "type": "nominal", "scale": {"domain": ["GRUPO 1", "GRUPO 2", "GRUPO 3"], "range": ["#FF0000", "#0C8C2C", "#0000FF"]},
              "legend": {"title": null, "orient": "none", "legendX": 559, "legendY": 179, "direction": "vertical"}},
    "shape": {"field": "grupo", "type": "nominal", "scale": {"domain": ["GRUPO 1", "GRUPO 2", "GRUPO 3"], "range": ["cross", "M-0.6,-1L0,-0.4L0.6,-1L1,-0.6L0.4,0L1,0.6L0.6,1L0,0.4L-0.6,1L-1,0.6L-0.4,0L-1,-0.6Z", "circle"]},
              "legend": {"title": null, "orient": "none", "legendX": 559, "legendY": 179, "direction": "vertical"}}
  }
}
]
}
